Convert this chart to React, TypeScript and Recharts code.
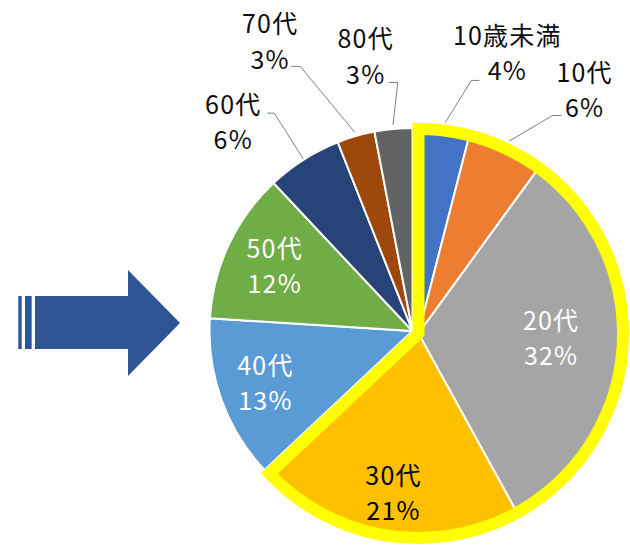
import React from 'react';
import { PieChart, Pie, Cell } from 'recharts';

const categories = ['10歳未満', '10代', '20代', '30代', '40代', '50代', '60代', '70代', '80代'];
const shares = [4, 6, 32, 21, 13, 12, 6, 3, 3];
const highlightedCount = 4;
const sliceColors = ['#4472C4', '#ED7D31', '#A5A5A5', '#FFC000', '#5B9BD5', '#70AD47', '#264478', '#9E480E', '#636363'];
const insideTextColors: Record<string, string> = { '20代': '#FFFFFF', '30代': '#000000', '40代': '#FFFFFF', '50代': '#FFFFFF' };

const rows = categories.map((name, i) => ({ name, value: shares[i], color: sliceColors[i] }));
const highlightRows = rows.slice(0, highlightedCount);
const restRows = rows.slice(highlightedCount);
const total = shares.reduce((a, b) => a + b, 0);
const highlightSum = shares.slice(0, highlightedCount).reduce((a, b) => a + b, 0);
const splitAngle = 90 - (360 * highlightSum) / total;
const outlineRows = [{ name: 'highlight', value: highlightSum }];

const FONT = '"Noto Sans CJK JP", "Noto Sans", sans-serif';
const FS = 25;
const LS = 1.2;
const RAD = Math.PI / 180;
const R = 204.5;
const OUTLINE_W = 12;

// label layout tweaks (angle in degrees, radial offsets from the outer radius)
const outsideLayout: Record<string, { a: number; dr: number; s: number; hook: number; tx: number; d1: number; d2: number }> = {
  '10歳未満': { a: 78.2, dr: 54, s: 8, hook: 8, tx: 36, d1: -46, d2: -11 },
  '10代': { a: 58.4, dr: 51.5, s: 8, hook: 9, tx: 32, d1: -44, d2: -9 },
  '60代': { a: 122.4, dr: 55, s: 1, hook: -7, tx: -41, d1: -10, d2: 25 },
  '70代': { a: 113.0, dr: 84.5, s: 4, hook: -9, tx: -30, d1: -44, d2: -8 },
  '80代': { a: 93.4, dr: 46, s: 4, hook: -9, tx: -32, d1: -45, d2: -9 },
};
const insideFactor: Record<string, number> = { '20代': 0.65, '30代': 0.78, '40代': 0.77, '50代': 0.75 };
const insideShift: Record<string, number> = { '20代': -5, '30代': 0, '40代': -2, '50代': -2 };

const polar = (cx: number, cy: number, r: number, angle: number) => ({
  x: cx + r * Math.cos(-angle * RAD),
  y: cy + r * Math.sin(-angle * RAD),
});

const makeLabel = (list: typeof rows) => (props: any) => {
  const { cx, cy, midAngle, outerRadius, index } = props;
  const row = list[index];
  if (!row) return null;
  const pct = `${row.value}%`;
  const lay = outsideLayout[row.name];
  const tStyle = { letterSpacing: LS };
  if (lay) {
    const p0 = polar(cx, cy, outerRadius + lay.s, midAngle);
    const p1 = polar(cx, cy, outerRadius + lay.dr, lay.a);
    const hx = p1.x + lay.hook;
    return (
      <g key={`lbl-${row.name}`}>
        <polyline points={`${p0.x},${p0.y} ${p1.x},${p1.y} ${hx},${p1.y}`} fill="none" stroke="#7F7F7F" strokeWidth={1} />
        <text x={p1.x + lay.tx} y={p1.y + lay.d1} textAnchor="middle" dominantBaseline="central" fill="#0D0D0D" fontSize={FS} fontFamily={FONT} style={tStyle}>
          {row.name}
        </text>
        <text x={p1.x + lay.tx} y={p1.y + lay.d2} textAnchor="middle" dominantBaseline="central" fill="#0D0D0D" fontSize={FS} fontFamily={FONT} style={tStyle}>
          {pct}
        </text>
      </g>
    );
  }
  const f = insideFactor[row.name] ?? 0.75;
  const p = polar(cx, cy, outerRadius * f, midAngle);
  const sy = insideShift[row.name] ?? 0;
  const color = insideTextColors[row.name] ?? '#FFFFFF';
  return (
    <g key={`lbl-${row.name}`}>
      <text x={p.x} y={p.y - 17.5 + sy} textAnchor="middle" dominantBaseline="central" fill={color} fontSize={FS} fontFamily={FONT} style={tStyle}>
        {row.name}
      </text>
      <text x={p.x} y={p.y + 17.5 + sy} textAnchor="middle" dominantBaseline="central" fill={color} fontSize={FS} fontFamily={FONT} style={tStyle}>
        {pct}
      </text>
    </g>
  );
};

const Arrow = () => (
  <svg width={630} height={545} style={{ position: 'absolute', left: 0, top: 0, pointerEvents: 'none' }}>
    <rect x={18.3} y={296} width={3.4} height={53} fill="#2F5597" />
    <rect x={25} y={296} width={6.7} height={53} fill="#2F5597" />
    <polygon points="35,296 128,296 128,270 180,323 128,376 128,349 35,349" fill="#2F5597" />
  </svg>
);

const layer: React.CSSProperties = { position: 'absolute', left: 0, top: 0 };
const outlineStyle: React.CSSProperties = { stroke: '#FFFF00', strokeWidth: OUTLINE_W, strokeLinejoin: 'miter', fill: 'none' };

export default function App() {
  return (
    <div style={{ position: 'absolute', left: 0, top: 0, width: 630, height: 545, background: '#fff' }}>
      <Arrow />
      <div style={layer}>
        <PieChart width={630} height={545} margin={{ top: 0, right: 0, bottom: 0, left: 0 }}>
          <Pie
            data={restRows}
            dataKey="value"
            cx={412.5}
            cy={331}
            outerRadius={R - 1.5}
            startAngle={splitAngle}
            endAngle={-270}
            stroke="#FFFFFF"
            strokeWidth={2}
            isAnimationActive={false}
            labelLine={false}
            label={false}
          >
            {restRows.map((r) => (
              <Cell key={r.name} fill={r.color} />
            ))}
          </Pie>
        </PieChart>
      </div>
      <div style={layer}>
        <PieChart width={630} height={545} margin={{ top: 0, right: 0, bottom: 0, left: 0 }}>
          <Pie
            data={highlightRows}
            dataKey="value"
            cx={418.5}
            cy={333.5}
            outerRadius={R}
            startAngle={90}
            endAngle={splitAngle}
            stroke="#FFFFFF"
            strokeWidth={2}
            isAnimationActive={false}
            labelLine={false}
            label={false}
          >
            {highlightRows.map((r) => (
              <Cell key={r.name} fill={r.color} />
            ))}
          </Pie>
        </PieChart>
      </div>
      <div style={layer}>
        <PieChart width={630} height={545} margin={{ top: 0, right: 0, bottom: 0, left: 0 }}>
          <Pie
            data={outlineRows}
            dataKey="value"
            cx={418.5}
            cy={333.5}
            outerRadius={R}
            startAngle={90}
            endAngle={splitAngle}
            fill="none"
            stroke="#FFFF00"
            strokeWidth={OUTLINE_W}
            isAnimationActive={false}
            labelLine={false}
            label={false}
          >
            <Cell fill="none" stroke="#FFFF00" strokeWidth={OUTLINE_W} style={outlineStyle} />
          </Pie>
        </PieChart>
      </div>
      <div style={layer}>
        <PieChart width={630} height={545} margin={{ top: 0, right: 0, bottom: 0, left: 0 }}>
          <Pie
            data={restRows}
            dataKey="value"
            cx={412.5}
            cy={331}
            outerRadius={R - 1.5}
            startAngle={splitAngle}
            endAngle={-270}
            fill="none"
            stroke="none"
            isAnimationActive={false}
            labelLine={false}
            label={makeLabel(restRows)}
          >
            {restRows.map((r) => (
              <Cell key={r.name} fill="none" stroke="none" />
            ))}
          </Pie>
          <Pie
            data={highlightRows}
            dataKey="value"
            cx={418.5}
            cy={333.5}
            outerRadius={R}
            startAngle={90}
            endAngle={splitAngle}
            fill="none"
            stroke="none"
            isAnimationActive={false}
            labelLine={false}
            label={makeLabel(highlightRows)}
          >
            {highlightRows.map((r) => (
              <Cell key={r.name} fill="none" stroke="none" />
            ))}
          </Pie>
        </PieChart>
      </div>
    </div>
  );
}
